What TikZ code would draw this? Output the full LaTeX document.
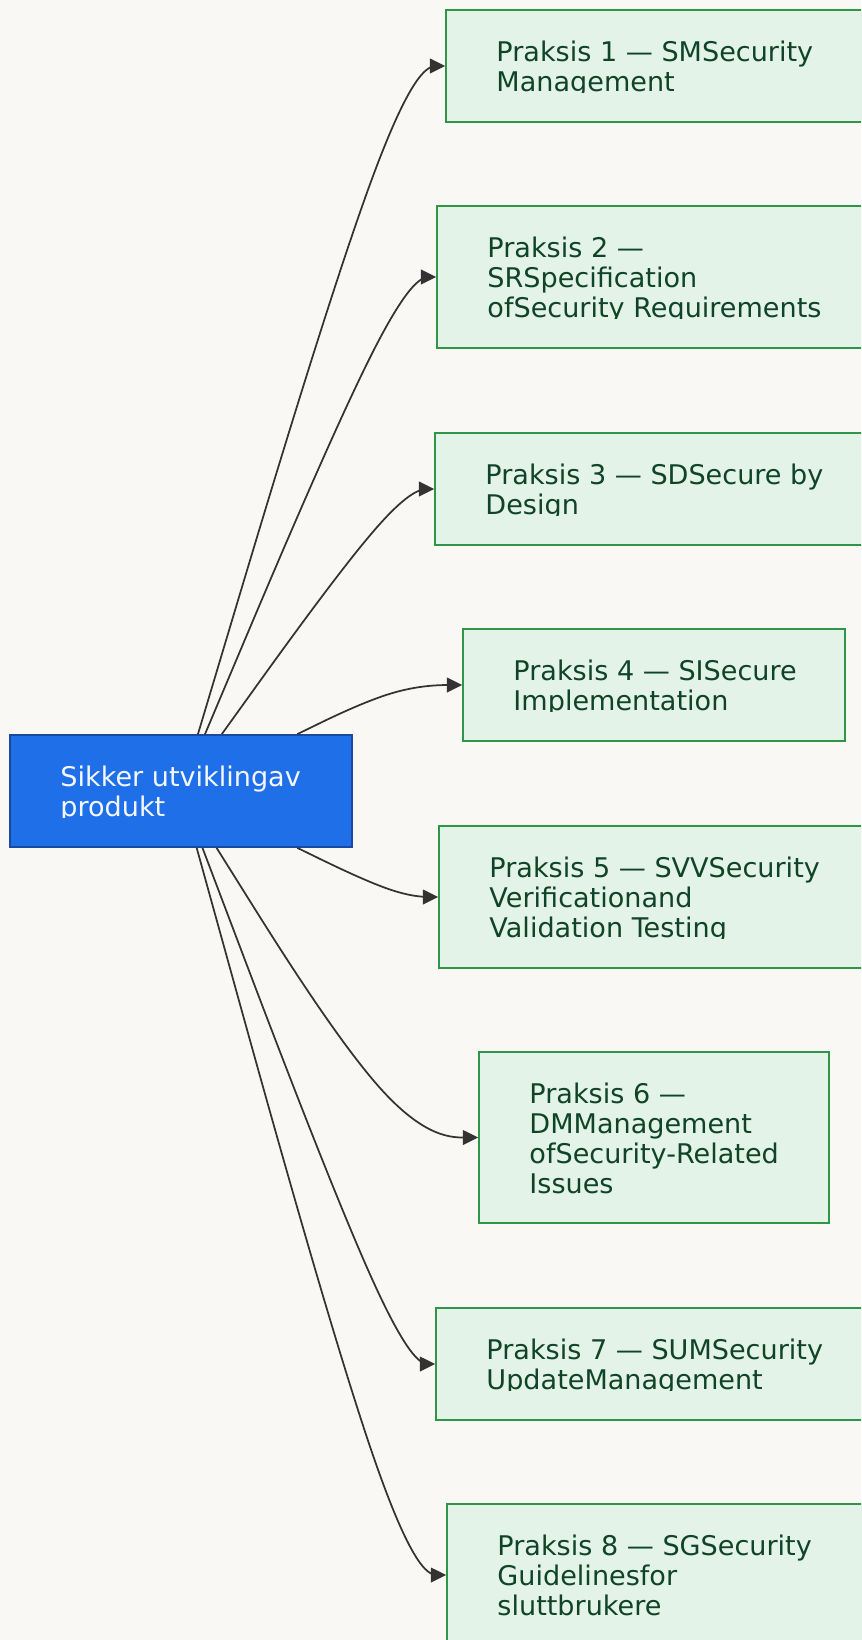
\documentclass[tikz,border=0pt]{standalone}
\usepackage{fontspec}
\setmainfont{DejaVu Sans}
\usetikzlibrary{calc,fit,arrows.meta}

\definecolor{bg}{HTML}{F9F8F4}
\definecolor{rootfill}{HTML}{1F6FE8}
\definecolor{rootline}{HTML}{1A4AA0}
\definecolor{roottext}{HTML}{F4F7FF}
\definecolor{pfill}{HTML}{E4F3E7}
\definecolor{pline}{HTML}{2F9648}
\definecolor{ptext}{HTML}{104426}
\definecolor{edgecol}{HTML}{333333}

\newcommand\lblfont{\fontsize{20.3pt}{22.5pt}\selectfont}

% B-spline style connector: start, bend point, end
\newcommand\basisedge[3]{%
  \path ($(#1)!2/3!(#2)$) coordinate (qa) ($(#2)!1/3!(#3)$) coordinate (qb);
  \draw[edge] (#1) -- ($(#1)!1/6!(#2)$)
    .. controls ($(#1)!1/3!(#2)$) and (qa) .. ($(qa)!0.5!(qb)$)
    .. controls (qb) and ($(#2)!2/3!(#3)$) .. ($(#2)!5/6!(#3)$) -- (#3);}

% label inside a box, cut off just below its last baseline
\newcommand\boxlabel[5]{%
  \begin{scope}
    \clip ($(#1.north west)+(0,-1)$) rectangle ($(#1.north east)+(0,{53.5+30*(#3-1)})$);
    \node[lbl,#4,anchor=base west] (#2) at ($(#1.north west)+(51,52)$) {\vtop{#5}};
  \end{scope}}

\tikzset{
  rootbox/.style={draw=rootline, fill=rootfill, line width=1.3pt, inner sep=0pt},
  pbox/.style={draw=pline, fill=pfill, line width=1.2pt, inner sep=0pt},
  lbl/.style={inner sep=0pt, font=\lblfont},
  edge/.style={draw=edgecol, line width=1.3pt, -{Triangle[length=11.5pt,width=11pt]}},
}

\begin{document}
\begin{tikzpicture}[x=0.75pt, y=-0.75pt]
  \useasboundingbox (0,0) rectangle (861,1640);
  \fill[bg] (0,0) rectangle (861,1640);
  \clip (0,0) rectangle (861,1640);

  % central node
  \node[rootbox, fit={(10,735) (352,847)}] (root) {};
  \boxlabel{root}{troot}{2}{text=roottext}{\hbox{Sikker utviklingav}\hbox{produkt}}

  % practice boxes
  \node[pbox, fit={(446,10) (862,122)}] (b1) {};
  \node[pbox, fit={(437,206) (871,348)}] (b2) {};
  \node[pbox, fit={(435,433) (873,545)}] (b3) {};
  \node[pbox, fit={(463,629) (845,741)}] (b4) {};
  \node[pbox, fit={(439,826) (869,968)}] (b5) {};
  \node[pbox, fit={(479,1052) (829,1223)}] (b6) {};
  \node[pbox, fit={(436,1308) (872,1420)}] (b7) {};
  \node[pbox, fit={(447,1504) (862,1646)}] (b8) {};

  \boxlabel{b1}{t1}{2}{text=ptext}{\hbox{Praksis 1 — SMSecurity}\hbox{Management}}
  \boxlabel{b2}{t2}{3}{text=ptext}{\hbox{Praksis 2 —}\hbox{SRSpecification}\hbox{ofSecurity Requirements}}
  \boxlabel{b3}{t3}{2}{text=ptext}{\hbox{Praksis 3 — SDSecure by}\hbox{Design}}
  \boxlabel{b4}{t4}{2}{text=ptext}{\hbox{Praksis 4 — SISecure}\hbox{Implementation}}
  \boxlabel{b5}{t5}{3}{text=ptext}{\hbox{Praksis 5 — SVVSecurity}\hbox{Verificationand}\hbox{Validation Testing}}
  \boxlabel{b6}{t6}{4}{text=ptext}{\hbox{Praksis 6 —}\hbox{DMManagement}\hbox{ofSecurity-Related}\hbox{Issues}}
  \boxlabel{b7}{t7}{2}{text=ptext}{\hbox{Praksis 7 — SUMSecurity}\hbox{UpdateManagement}}
  \boxlabel{b8}{t8}{3}{text=ptext}{\hbox{Praksis 8 — SGSecurity}\hbox{Guidelinesfor}\hbox{sluttbrukere}}

  % connectors
  \coordinate (bendx) at (398,0);
  \foreach \i in {1,...,8} {
    \coordinate (m\i) at (b\i.west -| bendx);
    \path (root) -- (m\i) coordinate[pos=0] (s\i);
    \basisedge{s\i}{m\i}{b\i.west}
  }
\end{tikzpicture}
\end{document}
